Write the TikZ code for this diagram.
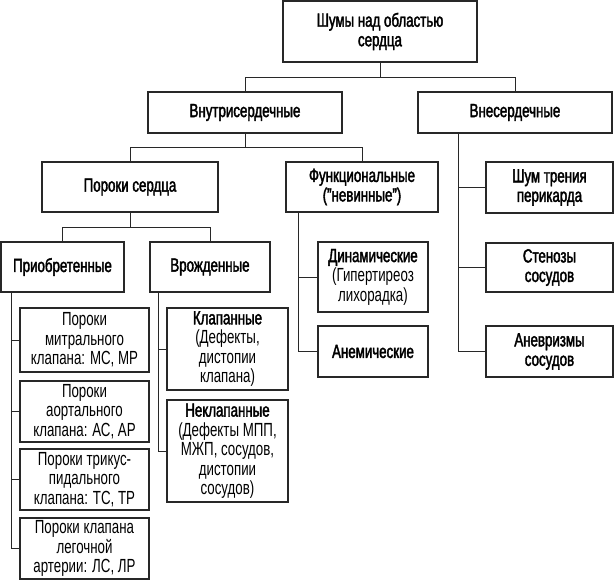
\documentclass[tikz,border=0pt]{standalone}
\usepackage{fontspec}
\setmainfont{Liberation Sans}[FakeStretch=0.7]
\newfontfamily\medfont{Liberation Sans}[FakeStretch=0.7,FakeBold=2]
\usepackage{tikz}
\usetikzlibrary{positioning}
\definecolor{inkgray}{RGB}{40,40,40}

\begin{document}
\begin{tikzpicture}[x=1pt, y=-1pt,
    box/.style={draw=inkgray, line width=1.2pt, align=center, inner sep=2pt,
      font=\fontsize{19}{19.5}\selectfont\medfont},
    lite/.style={font=\fontsize{19}{19.5}\selectfont},
    link/.style={draw=inkgray, line width=0.9pt}]
        \useasboundingbox (0,0) rectangle (614,581);
        % top levels
        \node[box, minimum width=194, minimum height=61] (top) at (380,31.5)
          {Шумы над областью\\сердца};
        \node[box, minimum width=194, minimum height=41] (intra) at (245,112.5)
          {Внутрисердечные};
        \node[box, minimum width=194, minimum height=41] (extra) at (515,112.5)
          {Внесердечные};
        \node[box, minimum width=176, minimum height=50] (vices) at (130,187)
          {Пороки сердца};
        \node[box, minimum width=152, minimum height=50] (func) at (362,187)
          {Функциональные\\(”невинные”)};
        \node[box, minimum width=123, minimum height=50] (acq) at (62.5,267)
          {Приобретенные};
        \node[box, minimum width=120, minimum height=50] (cong) at (210,267)
          {Врожденные};
        % acquired
        \node[box, lite, minimum width=129, minimum height=64] (mitral) at (84.5,340)
          {Пороки\\митрального\\клапана: МС, МР};
        \node[box, lite, minimum width=129, minimum height=61] (aortic) at (84.5,411.5)
          {Пороки\\аортального\\клапана: АС, АР};
        \node[box, lite, minimum width=129, minimum height=61] (tricusp) at (84.5,479.5)
          {Пороки трикус-\\пидального\\клапана: ТС, ТР};
        \node[box, lite, minimum width=129, minimum height=61] (pulm) at (84.5,548.5)
          {Пороки клапана\\легочной\\артерии: ЛС, ЛР};
        % congenital
        \node[box, minimum width=121, minimum height=82] (valv) at (227.5,349)
          {Клапанные\\{\rmfamily(Дефекты,}\\{\rmfamily дистопии}\\{\rmfamily клапана)}};
        \node[box, minimum width=121, minimum height=102] (nonvalv) at (227.5,451)
          {Неклапанные\\{\rmfamily(Дефекты МПП,}\\{\rmfamily МЖП, сосудов,}\\{\rmfamily дистопии}\\{\rmfamily сосудов)}};
        % functional
        \node[box, minimum width=110, minimum height=70] (dyn) at (373,277)
          {Динамические\\{\rmfamily(Гипертиреоз}\\{\rmfamily лихорадка)}};
        \node[box, minimum width=110, minimum height=51] (anem) at (373,351.5)
          {Анемические};
        % extracardiac
        \node[box, minimum width=127, minimum height=51] (peric) at (549.5,187.5)
          {Шум трения\\перикарда};
        \node[box, minimum width=127, minimum height=49] (sten) at (549.5,267.5)
          {Стенозы\\сосудов};
        \node[box, minimum width=127, minimum height=51] (aneur) at (549.5,351.5)
          {Аневризмы\\сосудов};
        % tree links
        \draw[link] (top.south) -- ++(0,15) -| (intra.north);
        \draw[link] (top.south) -- ++(0,15) -| (extra.north);
        \draw[link] (intra.south) -- ++(0,14) -| (vices.north);
        \draw[link] (intra.south) -- ++(0,14) -| (func.north);
        \draw[link] (vices.south) -- ++(0,15) -| (acq.north);
        \draw[link] (vices.south) -- ++(0,15) -| (cong.north);
        % side buses
        \foreach \kid in {mitral,aortic,tricusp,pulm}
          \draw[link] ([xshift=-51.5]acq.south) |- (\kid.west);
        \foreach \kid in {valv,nonvalv}
          \draw[link] ([xshift=-52]cong.south) |- (\kid.west);
        \foreach \kid in {dyn,anem}
          \draw[link] ([xshift=-64]func.south) |- (\kid.west);
        \foreach \kid in {peric,sten,aneur}
          \draw[link] ([xshift=-57]extra.south) |- (\kid.west);
      \end{tikzpicture}
\end{document}
